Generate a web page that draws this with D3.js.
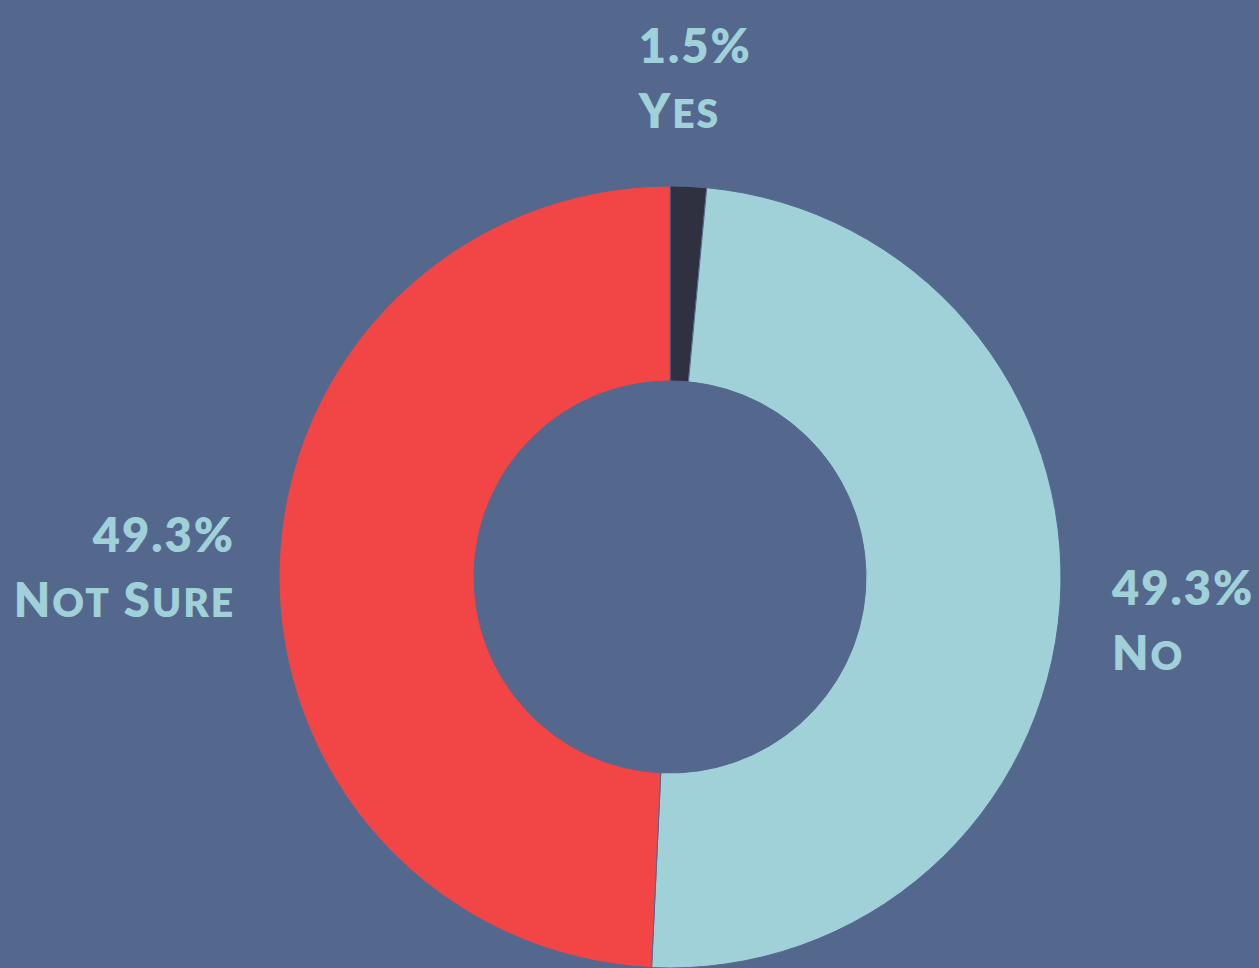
<!DOCTYPE html>
<html>
<head>
<meta charset="utf-8">
<script src="https://cdn.jsdelivr.net/npm/d3@7"></script>
<style>
  html, body { margin: 0; padding: 0; background: #54688e; overflow: hidden; }
  text { font-family: Lato, "Open Sans", sans-serif; font-weight: 800; letter-spacing: 2px; }
</style>
</head>
<body>
<div id="donut"></div>
<script>
const categories = ['Yes', 'No', 'Not Sure'];
const values = [1.5, 49.3, 49.3];
const valueLabels = ['1.5%', '49.3%', '49.3%'];
const colors = ['#2f3140', '#a0d1d9', '#f24545'];

const width = 1259;
const height = 968;
const cx = 670, cy = 577;
const outerRadius = 391;
const innerRadius = 196;
const labelRadius = 439;
const labelRadiusY = 560;
const fontSize = 47;
const smallCapSize = 39;
const lineGap = 65;

const data = categories.map((c, i) => ({ name: c, value: values[i], label: valueLabels[i], color: colors[i] }));

const svg = d3.select('#donut')
    .append('svg')
    .attr('width', width)
    .attr('height', height);

svg.append('rect')
    .attr('width', width)
    .attr('height', height)
    .attr('fill', '#54688e');

const pie = d3.pie()
    .value(d => d.value)
    .sort(null);

const arc = d3.arc()
    .innerRadius(innerRadius)
    .outerRadius(outerRadius);

const g = svg.append('g')
    .attr('transform', 'translate(' + cx + ',' + cy + ')');

const arcs = pie(data);

g.selectAll('path')
    .data(arcs)
    .enter()
    .append('path')
    .attr('d', arc)
    .attr('fill', d => d.data.color)
    .attr('stroke', '#54688e')
    .attr('stroke-width', 1);

// write a category name in small caps: first letter of each word full size, rest uppercase smaller
function smallCaps(sel, str) {
    str.split(' ').forEach((word, i) => {
        const first = (i > 0 ? ' ' : '') + word[0].toUpperCase();
        sel.append('tspan').attr('font-size', fontSize).text(first);
        if (word.length > 1) {
            sel.append('tspan').attr('font-size', smallCapSize).text(word.slice(1).toUpperCase());
        }
    });
}

g.selectAll('text.label')
    .data(arcs)
    .enter()
    .append('text')
    .attr('class', 'label')
    .attr('fill', '#a0d1d9')
    .attr('font-size', fontSize)
    .each(function (d) {
        const mid = (d.startAngle + d.endAngle) / 2;
        const s = Math.sin(mid);
        let x = labelRadius * s + 4;
        const y = -labelRadiusY * Math.cos(mid);
        const t = d3.select(this);
        let anchor, base;
        if (Math.abs(s) < 0.2) {
            // label near the top: block sits above the ring
            anchor = 'start';
            x = x - 56;
            base = -labelRadius - 75;
        } else {
            anchor = s > 0 ? 'start' : 'end';
            base = y - lineGap / 2 + 21;
        }
        t.attr('text-anchor', anchor);
        t.append('tspan').attr('x', x).attr('y', base).text(d.data.label);
        const line2 = t.append('tspan').attr('x', x).attr('y', base + lineGap);
        smallCaps(line2, d.data.name);
    });
</script>
</body>
</html>
